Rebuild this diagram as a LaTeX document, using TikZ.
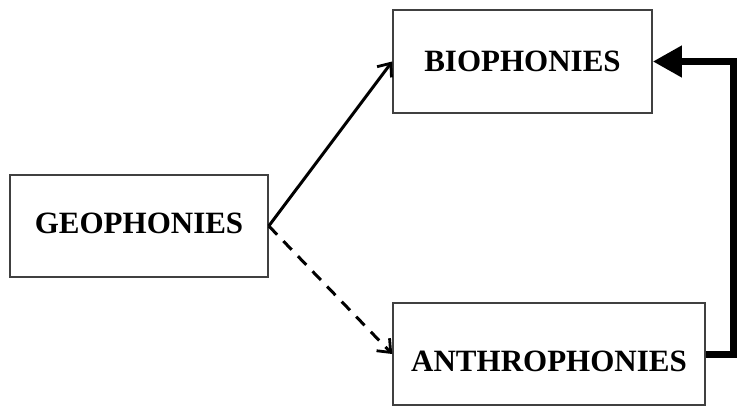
\documentclass[tikz,border=0pt]{standalone}
\usepackage{fontspec}
\setmainfont{Liberation Serif}
\usetikzlibrary{arrows.meta}
\begin{document}
\begin{tikzpicture}[x=0.5pt,y=-0.5pt,
  box/.style={draw=black!75,line width=0.8pt,fill=white,inner sep=0pt,
    font=\fontsize{15.5pt}{18pt}\selectfont\bfseries},
  thin/.style={line width=1.5pt,-{Straight Barb[length=5.5pt,width=9pt,line width=1.4pt]}},
  thick/.style={line width=3.5pt,-{Triangle[length=14.5pt,width=15pt]}}]
\useasboundingbox[fill=white] (0,0) rectangle (737,406);
\node[box,minimum width=129pt,minimum height=51pt,text height=7.3pt,text depth=0pt] (geo) at (139,226) {GEOPHONIES};
\node[box,minimum width=129.5pt,minimum height=51.5pt,text height=10.3pt,text depth=0pt] (bio) at (522.5,61.5) {BIOPHONIES};
\node[box,minimum width=156pt,minimum height=51pt,text height=17.3pt,text depth=0pt] (anthro) at (549,354) {ANTHROPHONIES};
\draw[thin] (geo.east) -- (bio.west);
\draw[thin,dashed,dash pattern=on 6pt off 4.5pt] (geo.east) -- (anthro.west);
\draw[thick] (anthro.east) -- ++(28,0) |- (bio.east);
\end{tikzpicture}
\end{document}
